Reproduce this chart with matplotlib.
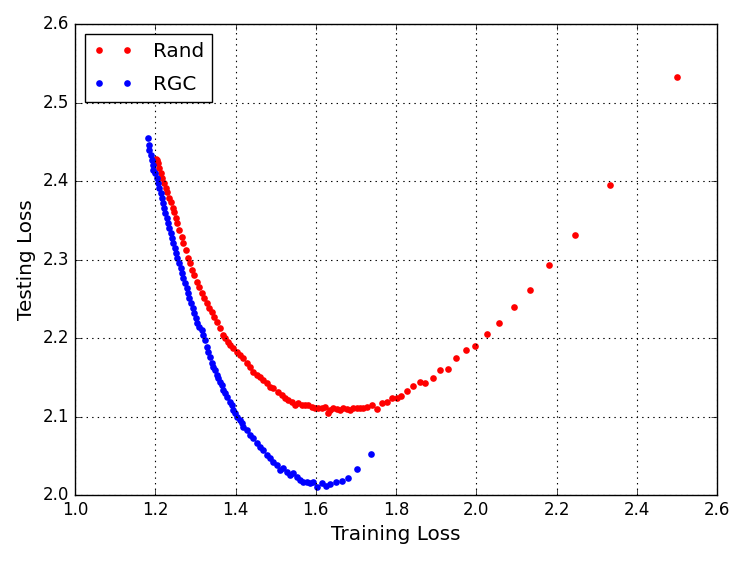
import matplotlib
matplotlib.use("Agg")
import matplotlib.pyplot as plt

plt.style.use("classic")

rand_x = [1.2020, 1.2036, 1.2050, 1.2077, 1.2102, 1.2135, 1.2160, 1.2218, 1.2268, 1.2301,
          1.2351, 1.2385, 1.2434, 1.2467, 1.2517, 1.2550, 1.2600, 1.2659, 1.2700, 1.2766,
          1.2824, 1.2866, 1.2908, 1.2966, 1.3033, 1.3098, 1.3157, 1.3215, 1.3282, 1.3347,
          1.3407, 1.3464, 1.3531, 1.3614, 1.3696, 1.3738, 1.3821, 1.3863, 1.3946, 1.4030,
          1.4112, 1.4195, 1.4279, 1.4361, 1.4444, 1.4528, 1.4611, 1.4694, 1.4778, 1.4860,
          1.4942, 1.5067, 1.5151, 1.5234, 1.5316, 1.5401, 1.5483, 1.5565, 1.5650, 1.5732,
          1.5814, 1.5899, 1.5981, 1.6064, 1.6148, 1.6231, 1.6313, 1.6355, 1.6438, 1.6522,
          1.6604, 1.6687, 1.6771, 1.6854, 1.6936, 1.7021, 1.7103, 1.7185, 1.7270, 1.7394,
          1.7519, 1.7644, 1.7768, 1.7893, 1.8018, 1.813, 1.828, 1.843, 1.859, 1.873,
          1.891, 1.910, 1.930, 1.950, 1.975, 1.998, 2.028, 2.057, 2.094, 2.135,
          2.182, 2.246, 2.333, 2.500]
rand_y = [2.4280, 2.4268, 2.4240, 2.4225, 2.4162, 2.4098, 2.4034, 2.3971, 2.3907, 2.3864,
          2.3779, 2.3736, 2.3652, 2.3609, 2.3524, 2.3461, 2.3376, 2.3291, 2.3206, 2.3121,
          2.3015, 2.2951, 2.2866, 2.2803, 2.2717, 2.2654, 2.2569, 2.2506, 2.2442, 2.2378,
          2.2335, 2.2271, 2.2208, 2.2123, 2.2038, 2.1996, 2.1953, 2.1911, 2.1868, 2.1826,
          2.1783, 2.1741, 2.1677, 2.1634, 2.1571, 2.1529, 2.1507, 2.1465, 2.1423, 2.1380,
          2.1359, 2.1316, 2.1274, 2.1232, 2.1210, 2.1189, 2.1146, 2.1168, 2.1146, 2.1146,
          2.1146, 2.1125, 2.1104, 2.1104, 2.1104, 2.1117, 2.1041, 2.1083, 2.1104, 2.1092,
          2.1083, 2.1104, 2.1092, 2.1083, 2.1104, 2.1112, 2.1112, 2.1112, 2.1125, 2.1146,
          2.1096, 2.1168, 2.1189, 2.1232, 2.1232, 2.126, 2.133, 2.139, 2.144, 2.143,
          2.149, 2.159, 2.161, 2.174, 2.185, 2.190, 2.205, 2.219, 2.240, 2.261,
          2.293, 2.331, 2.395, 2.532]

rgc_x = [1.1828, 1.1844, 1.1852, 1.1886, 1.1911, 1.1951, 1.1936, 1.1994, 1.2036, 1.2077,
         1.2102, 1.2135, 1.2160, 1.2185, 1.2218, 1.2243, 1.2285, 1.2326, 1.2351, 1.2385,
         1.2410, 1.2450, 1.2492, 1.2517, 1.2550, 1.2600, 1.2634, 1.2659, 1.2700, 1.2741,
         1.2784, 1.2824, 1.2849, 1.2884, 1.2933, 1.2966, 1.3016, 1.3048, 1.3098, 1.3157,
         1.3198, 1.3240, 1.3282, 1.3322, 1.3364, 1.3407, 1.3447, 1.3489, 1.3531, 1.3571,
         1.3614, 1.3656, 1.3696, 1.3738, 1.3781, 1.3863, 1.3905, 1.3946, 1.3988, 1.4030,
         1.4112, 1.4154, 1.4195, 1.4279, 1.4361, 1.4444, 1.4528, 1.4611, 1.4694, 1.4778,
         1.4860, 1.4942, 1.5027, 1.5109, 1.5191, 1.5276, 1.5358, 1.5441, 1.5525, 1.5607,
         1.5690, 1.5774, 1.5857, 1.5939, 1.6024, 1.6148, 1.6255, 1.6355, 1.6505, 1.6647,
         1.6811, 1.7036, 1.7385]
rgc_y = [2.4544, 2.4459, 2.4395, 2.4331, 2.4268, 2.4204, 2.4140, 2.4098, 2.4034, 2.3971,
         2.3907, 2.3843, 2.3779, 2.3716, 2.3652, 2.3588, 2.3524, 2.3461, 2.3397, 2.3334,
         2.3270, 2.3206, 2.3143, 2.3079, 2.3015, 2.2951, 2.2888, 2.2824, 2.2760, 2.2697,
         2.2633, 2.2569, 2.2506, 2.2442, 2.2378, 2.2315, 2.2251, 2.2187, 2.2136, 2.2102,
         2.2038, 2.1975, 2.1889, 2.1826, 2.1762, 2.1677, 2.1634, 2.1592, 2.1529, 2.1487,
         2.1443, 2.1401, 2.1338, 2.1296, 2.1252, 2.1189, 2.1146, 2.1083, 2.1041, 2.0997,
         2.0955, 2.0913, 2.0870, 2.0828, 2.0764, 2.0722, 2.0659, 2.0615, 2.0573, 2.0510,
         2.0468, 2.0424, 2.0382, 2.0318, 2.0340, 2.0297, 2.0255, 2.0276, 2.0233, 2.0191,
         2.0169, 2.0169, 2.0149, 2.0169, 2.0106, 2.0149, 2.0115, 2.0140, 2.0169, 2.0178,
         2.0220, 2.0327, 2.0522]

series_names = ["Rand", "RGC"]
x_label = "Training Loss"
y_label = "Testing Loss"

fig = plt.figure(figsize=(7.47, 5.61), dpi=100, facecolor="white")
ax = fig.add_axes([75 / 747, 66 / 561, 642 / 747, 471 / 561])
ax.set_facecolor("white")

ax.plot(rand_x, rand_y, linestyle="none", marker="o", markersize=4.8,
        markeredgewidth=0, color="red", label=series_names[0])
ax.plot(rgc_x, rgc_y, linestyle="none", marker="o", markersize=4.8,
        markeredgewidth=0, color="blue", label=series_names[1])

ax.set_xlim(1.0, 2.6)
ax.set_ylim(2.0, 2.6)
ax.set_xticks([1.0, 1.2, 1.4, 1.6, 1.8, 2.0, 2.2, 2.4, 2.6])
ax.set_yticks([2.0, 2.1, 2.2, 2.3, 2.4, 2.5, 2.6])
ax.tick_params(labelsize=12)
ax.grid(True, linestyle=":", color="k", linewidth=0.8)
ax.set_xlabel(x_label, fontsize=14.4)
ax.set_ylabel(y_label, fontsize=14.4)

leg = ax.legend(loc="upper left", numpoints=2, fontsize=14.4, fancybox=False,
                framealpha=1, labelspacing=0.7, handletextpad=1.0)
leg.get_frame().set_edgecolor("black")

fig.savefig("out.png", dpi=100, facecolor="white")
